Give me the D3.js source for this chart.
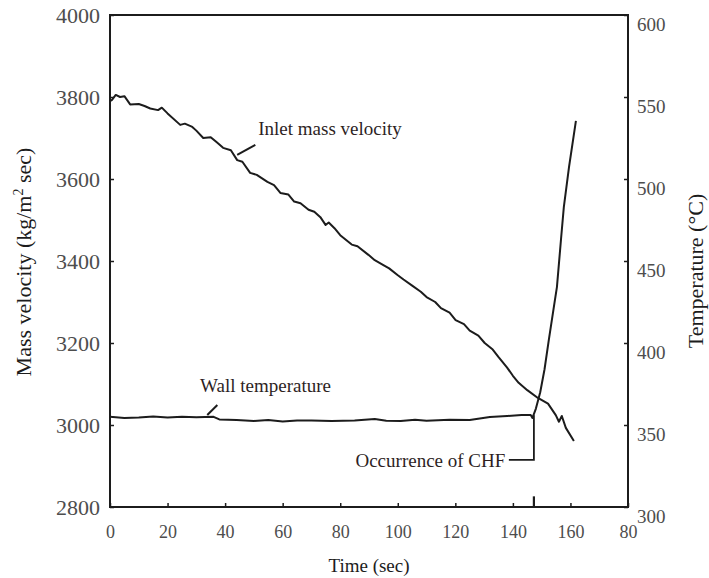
<!DOCTYPE html>
<html lang="en">
<head>
<meta charset="UTF-8">
<title>Mass velocity and wall temperature</title>
<script src="https://d3js.org/d3.v7.min.js"></script>
<style>
  body { margin: 0; background: #fff; }
</style>
</head>
<body>
<svg id="chart" width="709" height="578"></svg>
<script>
// time axis (sec)
const xTicks = [0, 20, 40, 60, 80, 100, 120, 140, 160, 180];
const xTickLabels = ["0", "20", "40", "60", "80", "100", "120", "140", "160", "80"];
const yLeftTicks = [2800, 3000, 3200, 3400, 3600, 3800, 4000];
const yRightTicks = [300, 350, 400, 450, 500, 550, 600];

// inlet mass velocity (kg/m2 sec)
const massTime = [0, 0.7, 2, 3.5, 5, 7, 10, 12, 14, 16.7, 18, 20, 24.4, 26, 28.6, 30, 32.4, 35, 37, 39.3,
  42, 44.2, 46, 48.7, 51, 54.7, 57, 59.2, 62, 64, 66.2, 69, 71, 73.1, 74.9, 76, 78, 80, 84, 86, 89.8,
  92, 95, 97, 99.9, 102, 105, 108, 110, 113, 115, 118, 120.1, 123, 125, 128, 130.2, 133, 135.1,
  138, 140, 142, 145, 148.7, 152.2, 154.9, 156, 157, 158.4, 161.2];
const massVel = [3790, 3793, 3805, 3800, 3802, 3782, 3783, 3778, 3772, 3768, 3774, 3760, 3732, 3735, 3727, 3718, 3700, 3702, 3690, 3676,
  3670, 3646, 3642, 3615, 3610, 3593, 3585, 3566, 3562, 3545, 3541, 3525, 3520, 3507, 3488, 3494, 3480, 3463, 3440, 3436, 3415,
  3402, 3390, 3382, 3366, 3355, 3340, 3325, 3312, 3300, 3285, 3274, 3256, 3246, 3230, 3218, 3200, 3184, 3165,
  3140, 3120, 3103, 3085, 3066, 3052, 3024, 3008, 3022, 2993, 2961];

// wall temperature (deg C)
const tempTime = [0, 5, 10, 15, 20, 25, 30, 36, 38, 44, 50, 55, 60, 65, 70, 77, 85, 92, 96, 101, 106, 110, 118, 125,
  132, 138, 143, 146.2, 146.8, 148, 149.5, 151, 152.5, 154.6, 155.3, 156.7, 157.7, 159.5, 161.9];
const wallTemp = [355, 354.2, 354.6, 355.2, 354.5, 355.1, 354.8, 355, 353.4, 353.1, 352.5, 353, 352.2, 352.8, 352.8, 352.5, 352.8, 353.7, 352.6, 352.4, 353.2, 352.6, 353.2, 353,
  354.9, 355.5, 356.1, 356.1, 354.3, 360, 370, 384, 402, 426.2, 434.1, 462.8, 482.9, 507.3, 535.5];

// annotations in data units: [time, value] with value on left (mass) or right (temp) axis
const labelText = ["Inlet mass velocity", "Wall temperature", "Occurrence of CHF"];
const labelPos = [[51.5, "m", 3707], [31.3, "t", 370], [85.3, "t", 324.4]];
const massArrow = [[44.2, 3659], [50.5, 3683]];
const wallArrow = [[33.8, 356.1], [37.3, 362.2]];
const chfLeader = [[138.6, 328.7], [147.3, 328.7], [147.3, 356]];
const chfMark = [[147.3, 300], [147.3, 306.5]];

const plotL = 110, plotR = 628, plotT = 15, plotB = 507;
const serif = "'Liberation Serif', 'Times New Roman', Times, 'DejaVu Serif', serif";

const svg = d3.select("#chart");
svg.append("rect").attr("width", 709).attr("height", 578).attr("fill", "#fff");

const x = d3.scaleLinear().domain([0, 180]).range([plotL, plotR]);
const yM = d3.scaleLinear().domain([2800, 4000]).range([plotB, plotT]);
const yT = d3.scaleLinear().domain([300, 600]).range([plotB, plotT]);

const ink = "#1c1c1c";
const tickCol = "#4d4d4d";

// axes
svg.append("g")
  .attr("transform", "translate(0," + plotB + ")")
  .call(d3.axisBottom(x).tickValues(xTicks).tickSize(-4).tickPadding(18)
    .tickFormat((d, i) => xTickLabels[i]))
  .attr("font-family", serif)
  .call(g => g.select(".domain").remove())
  .call(g => g.selectAll("line").attr("stroke", ink).attr("stroke-width", 1.5))
  .call(g => g.selectAll("text").attr("fill", tickCol).style("font-size", "18px")
    .attr("dy", "0.71em"));

svg.append("g")
  .attr("transform", "translate(" + plotL + ",0)")
  .call(d3.axisLeft(yM).tickValues(yLeftTicks).tickSize(-4).tickPadding(10)
    .tickFormat(d3.format("d")))
  .attr("font-family", serif)
  .call(g => g.select(".domain").remove())
  .call(g => g.selectAll("line").attr("stroke", ink).attr("stroke-width", 1.5))
  .call(g => g.selectAll("text").attr("fill", tickCol).style("font-size", "22px"));

svg.append("g")
  .attr("transform", "translate(" + plotR + ",0)")
  .call(d3.axisRight(yT).tickValues(yRightTicks).tickSize(-4).tickPadding(9))
  .attr("font-family", serif)
  .call(g => g.select(".domain").remove())
  .call(g => g.selectAll("line").attr("stroke", ink).attr("stroke-width", 1.5))
  .call(g => g.selectAll("text").attr("fill", tickCol).style("font-size", "19px")
    .attr("dy", "0.8em"));

// frame
svg.append("rect")
  .attr("x", plotL).attr("y", plotT)
  .attr("width", plotR - plotL).attr("height", plotB - plotT)
  .attr("fill", "none").attr("stroke", ink).attr("stroke-width", 2);

// curves
const massLine = d3.line().x(d => x(d[0])).y(d => yM(d[1]));
const tempLine = d3.line().x(d => x(d[0])).y(d => yT(d[1]));

svg.append("path")
  .datum(massTime.map((t, i) => [t, massVel[i]]))
  .attr("d", massLine)
  .attr("fill", "none").attr("stroke", ink).attr("stroke-width", 2)
  .attr("stroke-linejoin", "round");

svg.append("path")
  .datum(tempTime.map((t, i) => [t, wallTemp[i]]))
  .attr("d", tempLine)
  .attr("fill", "none").attr("stroke", ink).attr("stroke-width", 2)
  .attr("stroke-linejoin", "round");

// annotations
svg.append("path").datum(massArrow).attr("d", massLine)
  .attr("fill", "none").attr("stroke", ink).attr("stroke-width", 2);
svg.append("path").datum(wallArrow).attr("d", tempLine)
  .attr("fill", "none").attr("stroke", ink).attr("stroke-width", 2);
svg.append("path").datum(chfLeader).attr("d", tempLine)
  .attr("fill", "none").attr("stroke", ink).attr("stroke-width", 1.8);
svg.append("path").datum(chfMark).attr("d", tempLine)
  .attr("fill", "none").attr("stroke", ink).attr("stroke-width", 2.2);

svg.selectAll("text.note")
  .data(labelText)
  .join("text")
  .attr("class", "note")
  .attr("font-family", serif)
  .attr("x", (d, i) => x(labelPos[i][0]))
  .attr("y", (d, i) => labelPos[i][1] === "m" ? yM(labelPos[i][2]) : yT(labelPos[i][2]))
  .attr("fill", "#2e1f1f")
  .style("font-size", "19px")
  .text(d => d);

// axis titles
svg.append("text")
  .attr("font-family", serif)
  .attr("x", (plotL + plotR) / 2).attr("y", 572)
  .attr("text-anchor", "middle").attr("fill", ink)
  .style("font-size", "19px")
  .text("Time (sec)");

svg.append("text")
  .attr("font-family", serif)
  .attr("transform", "translate(31,262) rotate(-90)")
  .attr("text-anchor", "middle").attr("fill", ink)
  .style("font-size", "22px")
  .html("Mass velocity (kg/m<tspan dy='-8' font-size='14'>2</tspan><tspan dy='8'> sec)</tspan>");

svg.append("text")
  .attr("font-family", serif)
  .attr("transform", "translate(703,271) rotate(-90)")
  .attr("text-anchor", "middle").attr("fill", ink)
  .style("font-size", "22px")
  .text("Temperature (°C)");
</script>
</body>
</html>
